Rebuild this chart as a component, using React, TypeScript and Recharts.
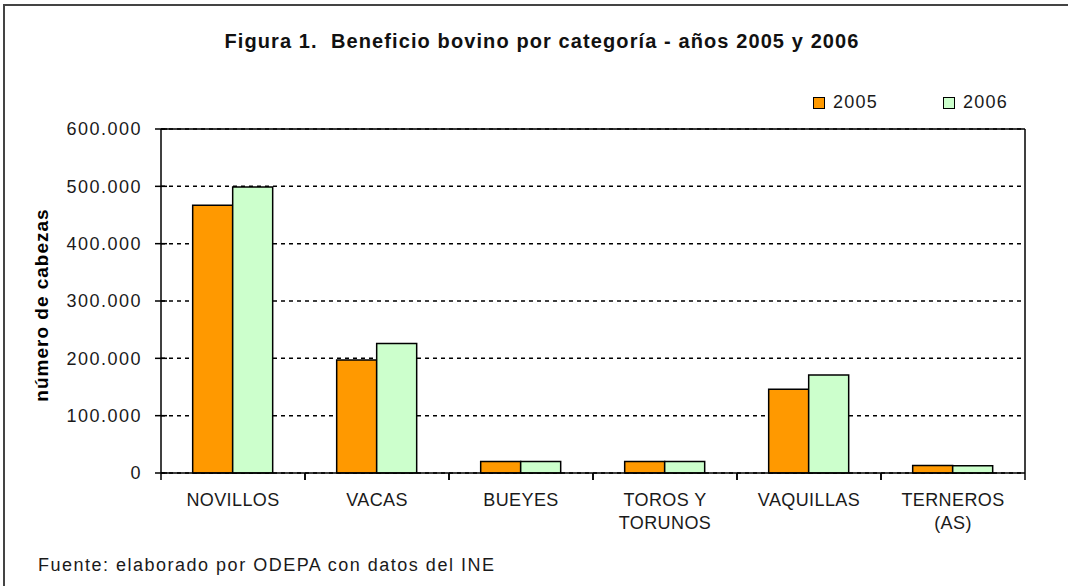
import React from "react";
import { BarChart, Bar, XAxis, YAxis, CartesianGrid, ReferenceLine } from "recharts";

const categories = ["NOVILLOS", "VACAS", "BUEYES", "TOROS Y\nTORUNOS", "VAQUILLAS", "TERNEROS\n(AS)"];
const values2005 = [467000, 197000, 20000, 20000, 146000, 13000];
const values2006 = [499000, 226000, 20000, 20000, 171000, 12500];
const yTicks = [0, 100000, 200000, 300000, 400000, 500000, 600000];
const seriesNames = ["2005", "2006"];
const title = "Figura 1.  Beneficio bovino por categoría - años 2005 y 2006";
const yLabel = "número de cabezas";
const source = "Fuente: elaborado por ODEPA con datos del INE";

const data = categories.map((c, i) => ({ cat: c, v2005: values2005[i], v2006: values2006[i] }));

const FONT = "'Liberation Sans', Arial, sans-serif";
const ORANGE = "#FF9900";
const GREEN = "#CCFFCC";

const fmt = (v: number) => String(v).replace(/\B(?=(\d{3})+(?!\d))/g, ".");

const Y_TICK_SIZE = 6;
const Y_TICK_MARGIN = 13;
const X_TICK_SIZE = 6;
const X_TICK_MARGIN = 14;

const YTick = (props: any) => {
  const { x, y, payload } = props;
  const ax = x + Y_TICK_SIZE + Y_TICK_MARGIN;
  return (
    <g>
      <line x1={ax - 6} x2={ax + 6} y1={y} y2={y} stroke="#000" strokeWidth={1.5} />
      <text x={x} y={y} dy="0.36em" textAnchor="end" fontFamily={FONT} fontSize={18} fill="#1a1a1a" style={{ letterSpacing: "1.5px" }}>
        {fmt(payload.value)}
      </text>
    </g>
  );
};

const XTick = (props: any) => {
  const { x, y, payload, width, visibleTicksCount } = props;
  const half = payload.offset || (width / (visibleTicksCount || categories.length)) / 2;
  const ay = y - X_TICK_SIZE - X_TICK_MARGIN;
  const lines = String(payload.value).split("\n");
  return (
    <g>
      <line x1={x - half} x2={x - half} y1={ay} y2={ay + 7} stroke="#000" strokeWidth={1.5} />
      <line x1={x + half} x2={x + half} y1={ay} y2={ay + 7} stroke="#000" strokeWidth={1.5} />
      <text x={x} y={y} textAnchor="middle" fontFamily={FONT} fontSize={18} fill="#1a1a1a" style={{ letterSpacing: "0.4px" }}>
        {lines.map((l, i) => (
          <tspan key={i} x={x} dy={i === 0 ? "0.71em" : 23}>{l}</tspan>
        ))}
      </text>
    </g>
  );
};

const legendItem = (name: string, color: string, left: number) => (
  <div key={name} style={{ position: "absolute", left, top: 92, display: "flex", alignItems: "center", fontFamily: FONT, fontSize: 18, color: "#1a1a1a", letterSpacing: "1.2px" }}>
    <div style={{ width: 10, height: 10, background: color, border: "1.5px solid #000", marginRight: 8 }} />
    <span>{name}</span>
  </div>
);

export default function App() {
  return (
    <div style={{ position: "absolute", left: 0, top: 0, width: 1068, height: 586, overflow: "hidden", background: "#fff" }}>
      <div style={{ position: "absolute", left: 3, top: 4, width: 1070, height: 590, borderLeft: "2px solid #444", borderTop: "2px solid #444" }} />
      <div style={{ position: "absolute", left: 0, top: 0 }}>
        <BarChart width={1068} height={586} data={data} margin={{ top: 129, right: 43, left: 0, bottom: 53 }} barCategoryGap="22%" barGap={0}>
          <CartesianGrid vertical={false} stroke="#000" strokeDasharray="4 4" strokeWidth={1.5} />
          <XAxis dataKey="cat" height={60} interval={0} axisLine={{ stroke: "#000", strokeWidth: 1.5 }} tickLine={false} tickSize={X_TICK_SIZE} tickMargin={X_TICK_MARGIN} tick={<XTick />} />
          <YAxis width={161} domain={[0, 600000]} ticks={yTicks} interval={0} axisLine={{ stroke: "#000", strokeWidth: 1.5 }} tickLine={false} tickSize={Y_TICK_SIZE} tickMargin={Y_TICK_MARGIN} tick={<YTick />} />
          <ReferenceLine y={600000} stroke="#000" strokeWidth={1.5} />
          <ReferenceLine x={categories[categories.length - 1]} position="end" stroke="#000" strokeWidth={1.5} />
          <Bar dataKey="v2005" name={seriesNames[0]} fill={ORANGE} stroke="#000" strokeWidth={1.5} isAnimationActive={false} />
          <Bar dataKey="v2006" name={seriesNames[1]} fill={GREEN} stroke="#000" strokeWidth={1.5} isAnimationActive={false} />
        </BarChart>
      </div>
      <div style={{ position: "absolute", left: 0, width: 1084, top: 30, textAlign: "center", fontFamily: FONT, fontWeight: "bold", fontSize: 20, color: "#111", letterSpacing: "1.1px", whiteSpace: "pre" }}>
        {title}
      </div>
      {legendItem(seriesNames[0], ORANGE, 813)}
      {legendItem(seriesNames[1], GREEN, 943)}
      <div style={{ position: "absolute", left: 42, top: 305, transform: "translate(-50%, -50%) rotate(-90deg)", fontFamily: FONT, fontWeight: "bold", fontSize: 19, color: "#000", letterSpacing: "1px", whiteSpace: "nowrap" }}>
        {yLabel}
      </div>
      <div style={{ position: "absolute", left: 38, top: 555, fontFamily: FONT, fontSize: 18, color: "#1a1a1a", letterSpacing: "1.5px", whiteSpace: "nowrap" }}>
        {source}
      </div>
    </div>
  );
}
